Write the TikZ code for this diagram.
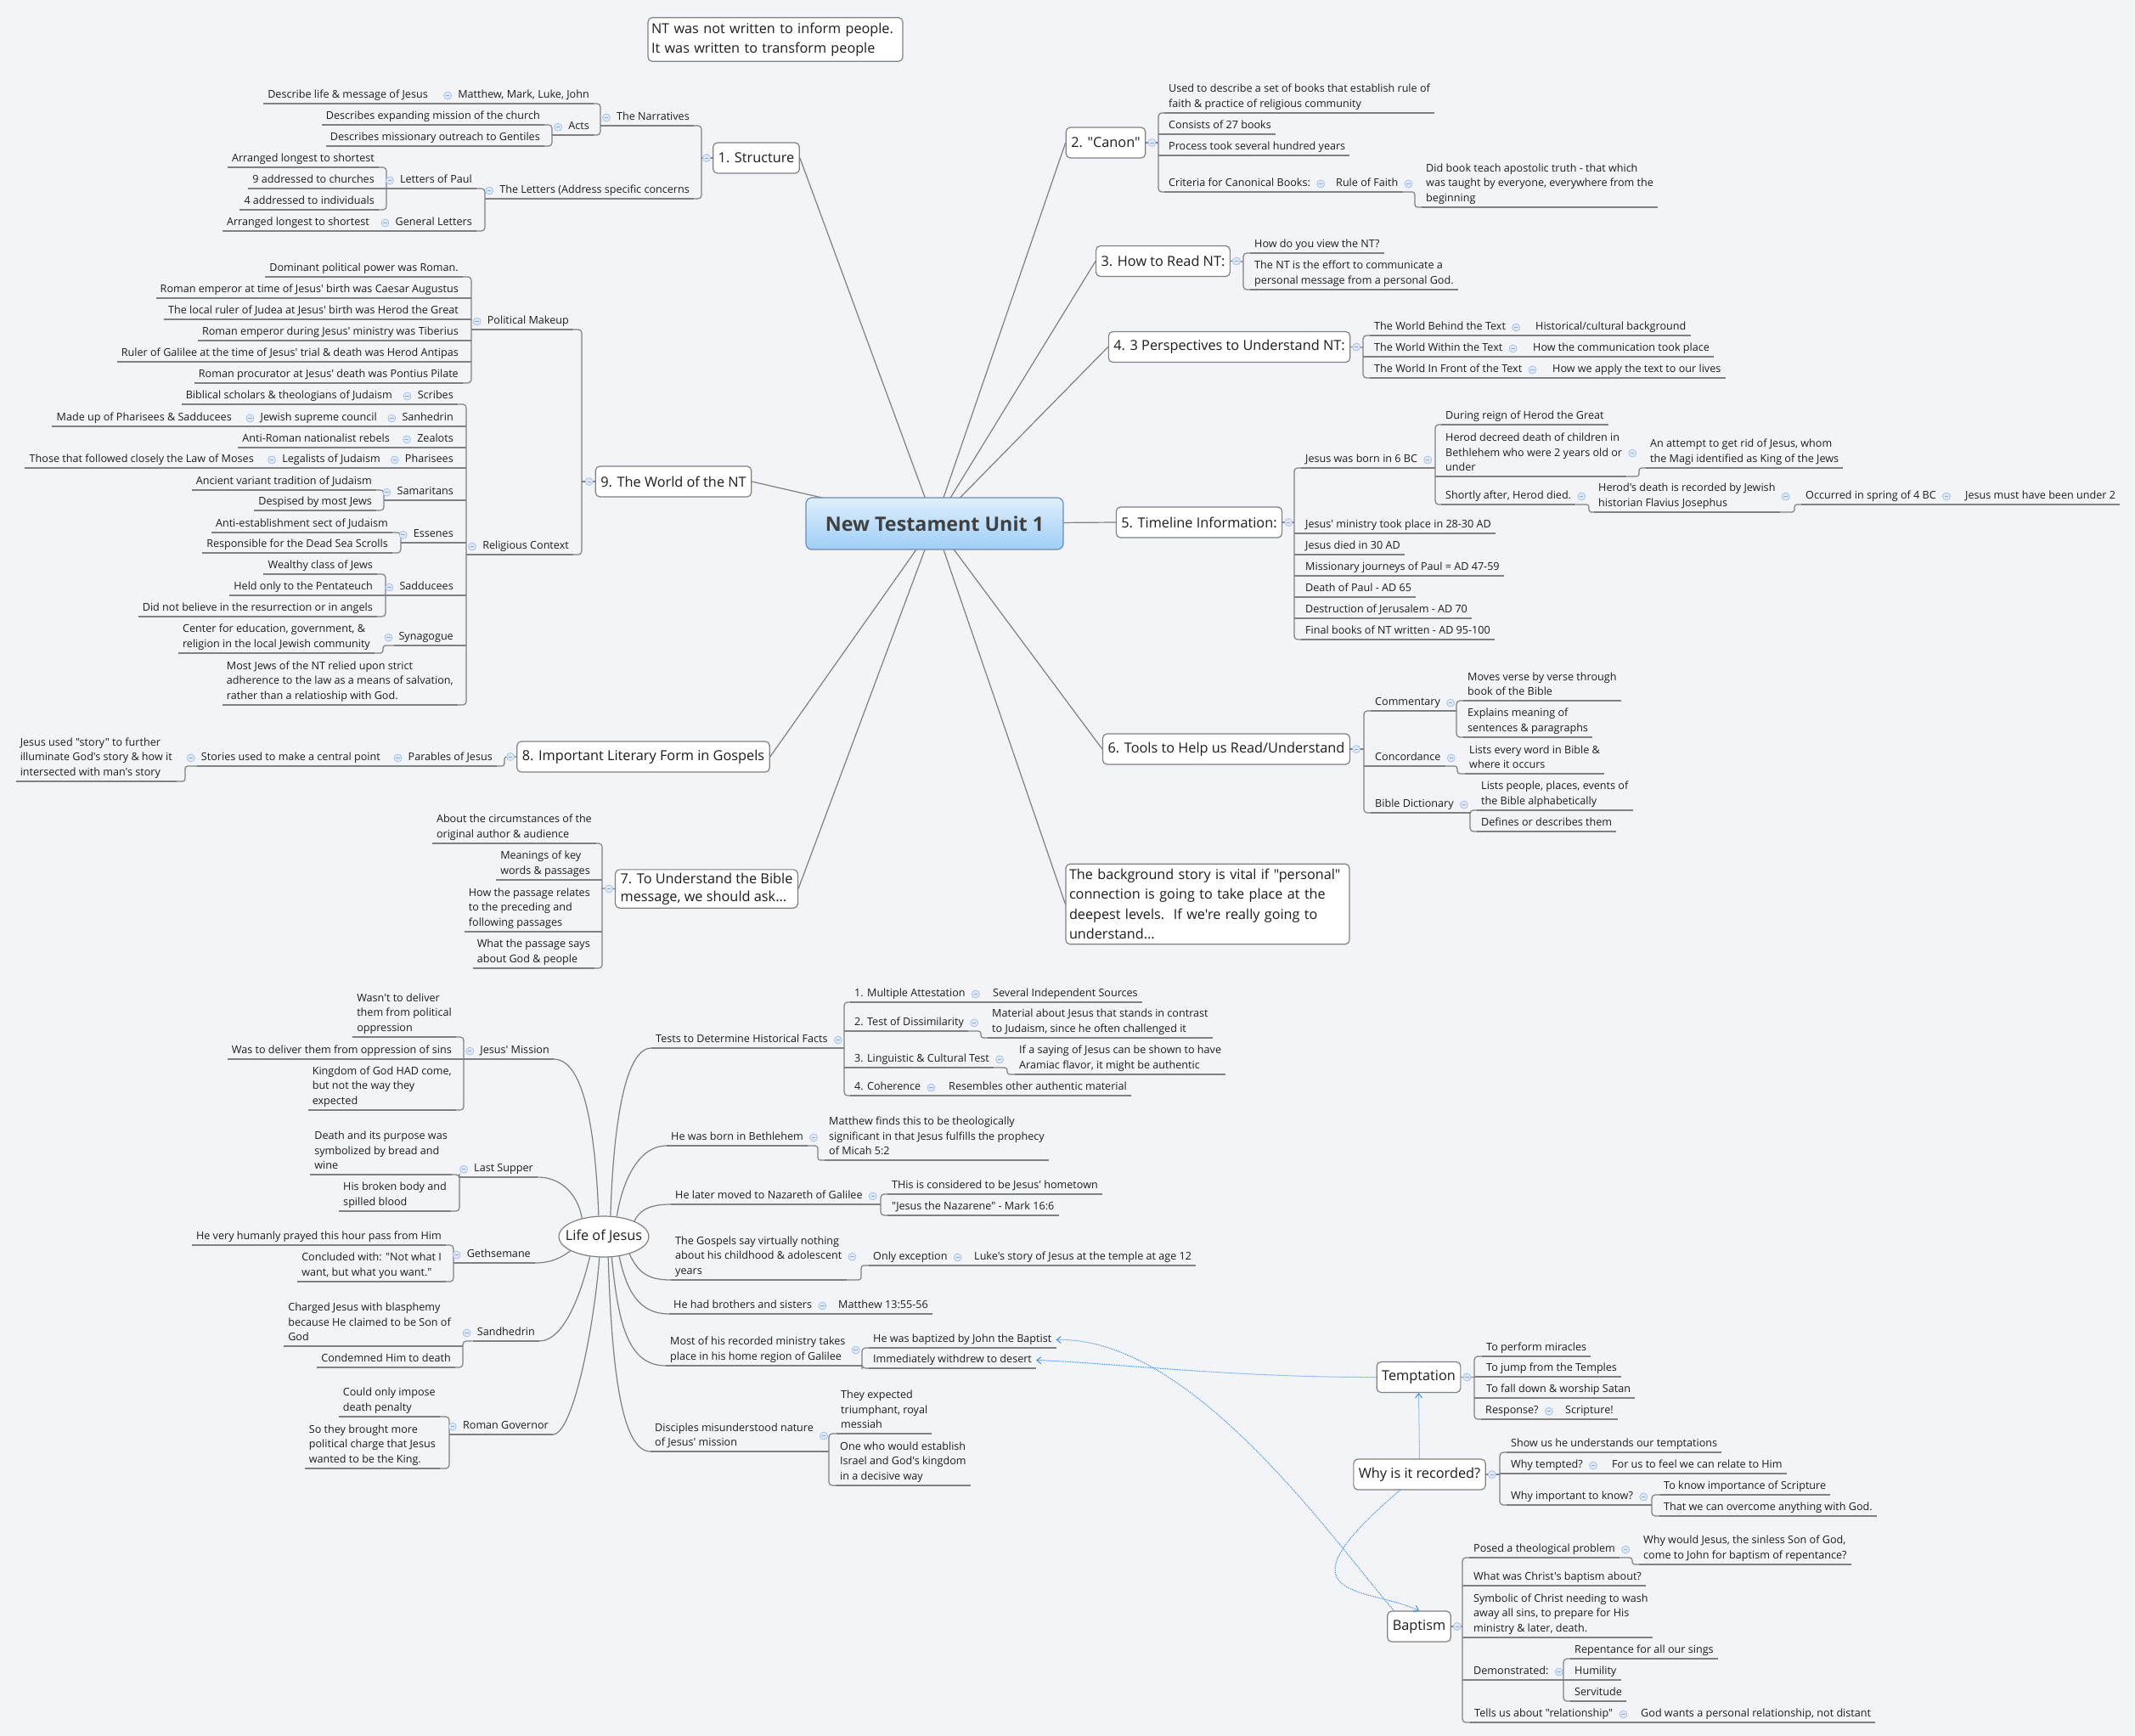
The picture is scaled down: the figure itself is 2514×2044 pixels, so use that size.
\documentclass[tikz,border=0pt]{standalone}
\usepackage{fontspec}
\setmainfont{Open Sans}[Ligatures=TeXOff]
\usetikzlibrary{shapes.geometric,arrows.meta,calc,backgrounds}
\definecolor{bgc}{RGB}{243,244,248}
\definecolor{lin}{RGB}{128,128,132}
\definecolor{txt}{RGB}{28,28,28}
\definecolor{boxb}{RGB}{128,128,128}
\definecolor{cirf}{RGB}{222,232,246}
\definecolor{cirb}{RGB}{165,190,225}
\definecolor{cirm}{RGB}{140,170,215}
\definecolor{blu}{RGB}{70,140,215}
\definecolor{ctop}{RGB}{222,239,253}
\definecolor{cbot}{RGB}{160,206,246}
\definecolor{cbrd}{RGB}{110,140,170}
\definecolor{ctxt}{RGB}{64,64,64}
\newcommand\xfs{\fontsize{12.6}{17.8}\selectfont}
\newcommand\xfb{\fontsize{16.3}{21}\selectfont}
\newcommand\xfn{\fontsize{16.2}{23.3}\selectfont}
\newcommand\xfc{\fontsize{23.3}{26}\selectfont\bfseries}
\newcommand\xst{\rule[-3pt]{0pt}{11pt}}
\newcommand\xspL[3]{\draw[ln,rounded corners=4pt] (#1.south east) -| (#2) |- (#3.south east);}
\newcommand\xspR[3]{\draw[ln,rounded corners=4pt] (#1.south west) -| (#2) |- (#3.south west);}
\newcommand\xmL[2]{\draw[ln] (#1.south east) -- (#1.south east -| #2);}
\newcommand\xmR[2]{\draw[ln] (#1.south west) -- (#1.south west -| #2);}
\newcommand\xcL[1]{\node[cir] (c-#1) at ([xshift=-7pt]#1.west) {};}
\newcommand\xcR[1]{\node[cir] (c-#1) at ([xshift=7pt]#1.east) {};}
\tikzset{
 ln/.style={draw=lin, line width=1.2pt},
 st/.style={font=\xfs, text=txt, inner xsep=5pt, inner ysep=3pt, align=left,
   execute at begin node=\xst, execute at end node=\xst,
   append after command={(\tikzlastnode.south west) edge[ln] (\tikzlastnode.south east)}},
 L/.style={st, anchor=south east},
 R/.style={st, anchor=south west},
 box/.style={draw=boxb, fill=white, rounded corners=5pt, line width=1.2pt, font=\xfb, text=txt, inner xsep=6pt, inner ysep=4pt, minimum height=36pt, align=left},
 cir/.style={circle, draw=cirb, fill=cirf, minimum size=9pt, inner sep=0pt, line width=0.7pt,
   path picture={\draw[cirm, line width=0.8pt] ([xshift=-2.2pt]path picture bounding box.center) -- ([xshift=2.2pt]path picture bounding box.center);}},
 bl/.style={draw=blu, line width=1pt, densely dotted},
 btip/.style={-{Straight Barb[length=5pt,width=8pt]}},
}
\begin{document}
\begin{tikzpicture}[x=1pt,y=-1pt]
\useasboundingbox (0,0) rectangle (2514,2044);

% ---------- central and floating ----------
\node[draw=cbrd, rounded corners=7pt, top color=ctop, bottom color=cbot, line width=1.2pt, minimum width=303pt, minimum height=61pt, font=\xfc, text=ctxt] (CT) at (1100.5,616.5) {New Testament Unit 1};
\node[box, font=\xfn, text width=292pt, inner xsep=4pt, inner ysep=6pt] (TN) at (913,46.5) {NT was not written to inform people.\\It was written to transform people};
\node[box, font=\xfn, text width=326pt, inner xsep=4pt, inner ysep=6pt] (BG) at (1422,1064.5) {The background story is vital if "personal"\\connection is going to take place at the\\deepest levels.\ \ If we're really going to\\understand...};

% ---------- level 1 boxes ----------
\node[box] (S) at (890.5,186) {1. Structure};
\node[box] (C) at (1302,168) {2. "Canon"};
\node[box] (H) at (1369.5,307.5) {3. How to Read NT:};
\node[box] (P) at (1447.5,408.5) {4. 3 Perspectives to Understand NT:};
\node[box] (TL) at (1412,615) {5. Timeline Information:};
\node[box] (TO) at (1444,882) {6. Tools to Help us Read/Understand};
\node[box] (U) at (832,1046.5) {7. To Understand the Bible\\message, we should ask...};
\node[box] (L8) at (757.5,891) {8. Important Literary Form in Gospels};
\node[box] (W9) at (793,567) {9. The World of the NT};

% ---------- 1. Structure ----------
\coordinate (sS) at (826,186);
\node[L] (N1) at (817,148) {The Narratives};
\node[L] (N2) at (817,234) {The Letters (Address specific concerns};
\draw[ln] (S.west) -- (sS);
\xspL{N1}{sS}{N2}
\coordinate (sN1) at (707,148);
\node[L] (N11) at (699,122) {Matthew, Mark, Luke, John};
\node[L] (N12) at (699,159) {Acts};
\draw[ln] (N1.south west) -- (sN1);
\xspL{N11}{sN1}{N12}
\node[L] (N111) at (509,122) {Describe life \& message of Jesus};
\draw[ln] (N111.south east) -- (N11.south west);
\coordinate (sN12) at (650,159);
\node[L] (N121) at (641,147) {Describes expanding mission of the church};
\node[L] (N122) at (641,172) {Describes missionary outreach to Gentiles};
\draw[ln] (N12.south west) -- (sN12);
\xspL{N121}{sN12}{N122}
\coordinate (sN2) at (571,234);
\node[L] (N21) at (561,222) {Letters of Paul};
\node[L] (N22) at (561,272) {General Letters};
\draw[ln] (N2.south west) -- (sN2);
\xspL{N21}{sN2}{N22}
\coordinate (sN21) at (455,222);
\node[L] (N211) at (446,197) {Arranged longest to shortest};
\node[L] (N212) at (446,222) {9 addressed to churches};
\node[L] (N213) at (446,247) {4 addressed to individuals};
\draw[ln] (N21.south west) -- (sN21);
\xspL{N211}{sN21}{N213}
\xmL{N212}{sN21}
\node[L] (N221) at (440,272) {Arranged longest to shortest};
\draw[ln] (N221.south east) -- (N22.south west);

% ---------- 9. World of the NT ----------
\coordinate (sW) at (685,567);
\node[L] (W1) at (675,388) {Political Makeup};
\node[L] (W2) at (675,653) {Religious Context};
\draw[ln] (W9.west) -- (sW);
\xspL{W1}{sW}{W2}
\coordinate (sW1) at (555,388);
\node[L] (W11) at (545,326) {Dominant political power was Roman.};
\node[L] (W12) at (545,351) {Roman emperor at time of Jesus' birth was Caesar Augustus};
\node[L] (W13) at (545,376) {The local ruler of Judea at Jesus' birth was Herod the Great};
\node[L] (W14) at (545,401) {Roman emperor during Jesus' ministry was Tiberius};
\node[L] (W15) at (545,426) {Ruler of Galilee at the time of Jesus' trial \& death was Herod Antipas};
\node[L] (W16) at (545,451) {Roman procurator at Jesus' death was Pontius Pilate};
\draw[ln] (W1.south west) -- (sW1);
\xspL{W11}{sW1}{W16}
\xmL{W12}{sW1}\xmL{W13}{sW1}\xmL{W14}{sW1}\xmL{W15}{sW1}
\coordinate (sW2) at (549,653);
\node[L] (W21) at (539,476) {Scribes};
\node[L] (W211) at (467,476) {Biblical scholars \& theologians of Judaism};
\draw[ln] (W211.south east) -- (W21.south west);
\node[L] (W22) at (539,502) {Sanhedrin};
\node[L] (W221) at (449,502) {Jewish supreme council};
\node[L] (W2211) at (278,502) {Made up of Pharisees \& Sadducees};
\draw[ln] (W221.south east) -- (W22.south west);
\draw[ln] (W2211.south east) -- (W221.south west);
\node[L] (W23) at (539,527) {Zealots};
\node[L] (W231) at (464,527) {Anti-Roman nationalist rebels};
\draw[ln] (W231.south east) -- (W23.south west);
\node[L] (W24) at (539,551) {Pharisees};
\node[L] (W241) at (453,551) {Legalists of Judaism};
\node[L] (W2411) at (304,551) {Those that followed closely the Law of Moses};
\draw[ln] (W241.south east) -- (W24.south west);
\draw[ln] (W2411.south east) -- (W241.south west);
\node[L] (W25) at (539,589) {Samaritans};
\coordinate (sW25) at (452,589);
\node[L] (W251) at (443,577) {Ancient variant tradition of Judaism};
\node[L] (W252) at (443,601) {Despised by most Jews};
\draw[ln] (W25.south west) -- (sW25);
\xspL{W251}{sW25}{W252}
\node[L] (W26) at (539,639) {Essenes};
\coordinate (sW26) at (472,639);
\node[L] (W261) at (462,627) {Anti-establishment sect of Judaism};
\node[L] (W262) at (462,651) {Responsible for the Dead Sea Scrolls};
\draw[ln] (W26.south west) -- (sW26);
\xspL{W261}{sW26}{W262}
\node[L] (W27) at (539,701) {Sadducees};
\coordinate (sW27) at (454,701);
\node[L] (W271) at (444,676) {Wealthy class of Jews};
\node[L] (W272) at (444,701) {Held only to the Pentateuch};
\node[L] (W273) at (444,726) {Did not believe in the resurrection or in angels};
\draw[ln] (W27.south west) -- (sW27);
\xspL{W271}{sW27}{W273}
\xmL{W272}{sW27}
\node[L] (W28) at (539,760) {Synagogue};
\coordinate (sW28) at (451,760);
\node[L] (W281) at (441,769) {Center for education, government, \&\\religion in the local Jewish community};
\draw[ln,rounded corners=3pt] (W281.south east) -| (sW28) -- (W28.south west);
\node[L] (W29) at (539,830) {Most Jews of the NT relied upon strict\\adherence to the law as a means of salvation,\\rather than a relatioship with God.};
\draw[ln] (W2.south west) -- (sW2);
\xspL{W21}{sW2}{W29}
\xmL{W22}{sW2}\xmL{W23}{sW2}\xmL{W24}{sW2}\xmL{W25}{sW2}\xmL{W26}{sW2}\xmL{W27}{sW2}\xmL{W28}{sW2}

% ---------- 8. Literary form ----------
\coordinate (sL8) at (594,891);
\node[L] (L81) at (585,902) {Parables of Jesus};
\draw[ln,rounded corners=3pt] (L8.west) -- (sL8) |- (L81.south east);
\node[L] (L811) at (453,902) {Stories used to make a central point};
\draw[ln] (L811.south east) -- (L81.south west);
\coordinate (sL811) at (218,902);
\node[L] (L8111) at (208,920) {Jesus used "story" to further\\illuminate God's story \& how it\\intersected with man's story};
\draw[ln,rounded corners=3pt] (L8111.south east) -| (sL811) -- (L811.south west);

% ---------- 7. Understand ----------
\coordinate (sU) at (709,1046);
\node[L] (U1) at (702,993) {About the circumstances of the\\original author \& audience};
\node[L] (U2) at (700,1036) {Meanings of key\\words \& passages};
\node[L] (U3) at (700,1097) {How the passage relates\\to the preceding and\\following passages};
\node[L] (U4) at (700,1140) {What the passage says\\about God \& people};
\draw[ln] (U.west) -- (sU);
\xspL{U1}{sU}{U4}
\xmL{U2}{sU}\xmL{U3}{sU}

% ---------- 2. Canon ----------
\coordinate (sC) at (1364,168);
\node[R] (C1) at (1371,133) {Used to describe a set of books that establish rule of\\faith \& practice of religious community};
\node[R] (C2) at (1371,158) {Consists of 27 books};
\node[R] (C3) at (1371,183) {Process took several hundred years};
\node[R] (C4) at (1371,226) {Criteria for Canonical Books:};
\draw[ln] (C.east) -- (sC);
\xspR{C1}{sC}{C4}
\xmR{C2}{sC}\xmR{C3}{sC}
\node[R] (C41) at (1568,226) {Rule of Faith};
\draw[ln] (C4.south east) -- (C41.south west);
\coordinate (sC41) at (1666,226);
\node[R] (C411) at (1674,244) {Did book teach apostolic truth - that which\\was taught by everyone, everywhere from the\\beginning};
\draw[ln,rounded corners=3pt] (C41.south east) -- (sC41) |- (C411.south west);

% ---------- 3. How to read ----------
\coordinate (sH) at (1464,308);
\node[R] (H1) at (1472,298) {How do you view the NT?};
\node[R] (H2) at (1472,341) {The NT is the effort to communicate a\\personal message from a personal God.};
\draw[ln] (H.east) -- (sH);
\xspR{H1}{sH}{H2}

% ---------- 4. Perspectives ----------
\coordinate (sP) at (1605,409);
\node[R] (P1) at (1613,395) {The World Behind the Text};
\node[R] (P11) at (1803,395) {Historical/cultural background};
\node[R] (P2) at (1613,420) {The World Within the Text};
\node[R] (P21) at (1800,420) {How the communication took place};
\node[R] (P3) at (1613,445) {The World In Front of the Text};
\node[R] (P31) at (1823,445) {How we apply the text to our lives};
\draw[ln] (P.east) -- (sP);
\xspR{P1}{sP}{P3}
\xmR{P2}{sP}
\draw[ln] (P1.south east) -- (P11.south west);
\draw[ln] (P2.south east) -- (P21.south west);
\draw[ln] (P3.south east) -- (P31.south west);

% ---------- 5. Timeline ----------
\coordinate (sTL) at (1524,615);
\node[R] (T1) at (1532,551) {Jesus was born in 6 BC};
\node[R] (T2) at (1532,628) {Jesus' ministry took place in 28-30 AD};
\node[R] (T3) at (1532,653) {Jesus died in 30 AD};
\node[R] (T4) at (1532,678) {Missionary journeys of Paul = AD 47-59};
\node[R] (T5) at (1532,703) {Death of Paul - AD 65};
\node[R] (T6) at (1532,728) {Destruction of Jerusalem - AD 70};
\node[R] (T7) at (1532,753) {Final books of NT written - AD 95-100};
\draw[ln] (TL.east) -- (sTL);
\xspR{T1}{sTL}{T7}
\xmR{T2}{sTL}\xmR{T3}{sTL}\xmR{T4}{sTL}\xmR{T5}{sTL}\xmR{T6}{sTL}
\coordinate (sT1) at (1690,551);
\node[R] (T11) at (1697,500) {During reign of Herod the Great};
\node[R] (T12) at (1697,561) {Herod decreed death of children in\\Bethlehem who were 2 years old or\\under};
\node[R] (T13) at (1697,594) {Shortly after, Herod died.};
\draw[ln] (T1.south east) -- (sT1);
\xspR{T11}{sT1}{T13}
\xmR{T12}{sT1}
\coordinate (sT12) at (1930,561);
\node[R] (T121) at (1938,551) {An attempt to get rid of Jesus, whom\\the Magi identified as King of the Jews};
\draw[ln,rounded corners=3pt] (T12.south east) -- (sT12) |- (T121.south west);
\coordinate (sT13) at (1871,594);
\node[R] (T131) at (1877,603) {Herod's death is recorded by Jewish\\historian Flavius Josephus};
\draw[ln,rounded corners=3pt] (T13.south east) -- (sT13) |- (T131.south west);
\coordinate (sT131) at (2113,603);
\node[R] (T1311) at (2121,594) {Occurred in spring of 4 BC};
\draw[ln,rounded corners=3pt] (T131.south east) -- (sT131) |- (T1311.south west);
\node[R] (T13111) at (2309,594) {Jesus must have been under 2};
\draw[ln] (T1311.south east) -- (T13111.south west);

% ---------- 6. Tools ----------
\coordinate (sTO) at (1606,882);
\node[R] (O1) at (1614,837) {Commentary};
\node[R] (O2) at (1614,902) {Concordance};
\node[R] (O3) at (1614,957) {Bible Dictionary};
\draw[ln] (TO.east) -- (sTO);
\xspR{O1}{sTO}{O3}
\xmR{O2}{sTO}
\coordinate (sO1) at (1715,837);
\node[R] (O11) at (1723,825) {Moves verse by verse through\\book of the Bible};
\node[R] (O12) at (1723,868) {Explains meaning of\\sentences \& paragraphs};
\draw[ln] (O1.south east) -- (sO1);
\xspR{O11}{sO1}{O12}
\coordinate (sO2) at (1716,902);
\node[R] (O21) at (1725,911) {Lists every word in Bible \&\\where it occurs};
\draw[ln,rounded corners=3pt] (O2.south east) -- (sO2) |- (O21.south west);
\coordinate (sO3) at (1731,960);
\node[R] (O31) at (1739,954) {Lists people, places, events of\\the Bible alphabetically};
\node[R] (O32) at (1739,979) {Defines or describes them};
\draw[ln] (O3.south east) -- (O3.south east -| sO3);
\xspR{O31}{sO3}{O32}

% ---------- Life of Jesus ----------
\node[ellipse, draw=boxb, fill=white, line width=1.2pt, minimum width=106pt, minimum height=48pt, inner xsep=-14pt, inner ysep=0pt, font=\xfb, text=txt] (LJ) at (711,1456) {Life of Jesus};
% left side
\node[L] (J1) at (652,1247) {Jesus' Mission};
\coordinate (sJ1) at (546,1247);
\node[L] (J11) at (537,1221) {Wasn't to deliver\\them from political\\oppression};
\node[L] (J12) at (537,1247) {Was to deliver them from oppression of sins};
\node[L] (J13) at (537,1307) {Kingdom of God HAD come,\\but not the way they\\expected};
\draw[ln] (J1.south west) -- (sJ1);
\xspL{J11}{sJ1}{J13}
\xmL{J12}{sJ1}
\node[L] (J2) at (633,1386) {Last Supper};
\coordinate (sJ2) at (541,1386);
\node[L] (J21) at (532,1383) {Death and its purpose was\\symbolized by bread and\\wine};
\node[L] (J22) at (531,1426) {His broken body and\\spilled blood};
\draw[ln] (J2.south west) -- (sJ2);
\xspL{J21}{sJ2}{J22}
\node[L] (J3) at (630,1487) {Gethsemane};
\coordinate (sJ3) at (534,1487);
\node[L] (J31) at (525,1466) {He very humanly prayed this hour pass from Him};
\node[L] (J32) at (525,1509) {Concluded with: "Not what I\\want, but what you want."};
\draw[ln] (J3.south west) -- (sJ3);
\xspL{J31}{sJ3}{J32}
\node[L] (J4) at (635,1579) {Sandhedrin};
\coordinate (sJ4) at (545,1579);
\node[L] (J41) at (536,1585) {Charged Jesus with blasphemy\\because He claimed to be Son of\\God};
\node[L] (J42) at (536,1610) {Condemned Him to death};
\draw[ln,rounded corners=4pt] (J4.south west) -- (sJ4) |- (J42.south east);
\xmL{J41}{sJ4}
\node[L] (J5) at (651,1689) {Roman Governor};
\coordinate (sJ5) at (529,1689);
\node[L] (J51) at (518,1668) {Could only impose\\death penalty};
\node[L] (J52) at (518,1729) {So they brought more\\political charge that Jesus\\wanted to be the King.};
\draw[ln] (J5.south west) -- (sJ5);
\xspL{J51}{sJ5}{J52}
\draw[ln] (LJ.104) .. controls (700,1300) and (680,1247) .. (J1.south east);
\draw[ln] (LJ.140) .. controls (680,1405) and (660,1386) .. (J2.south east);
\draw[ln] (LJ.203) .. controls (662,1480) and (650,1487) .. (J3.south east);
\draw[ln] (LJ.235) .. controls (685,1520) and (665,1579) .. (J4.south east);
\draw[ln] (LJ.258) .. controls (700,1560) and (675,1689) .. (J5.south east);
% right side
\node[R] (K1) at (767,1234) {Tests to Determine Historical Facts};
\coordinate (sK1) at (994,1234);
\node[R] (K11) at (1001,1180) {1. Multiple Attestation};
\node[R] (K111) at (1164,1180) {Several Independent Sources};
\node[R] (K12) at (1001,1214) {2. Test of Dissimilarity};
\node[R] (K121) at (1163,1222) {Material about Jesus that stands in contrast\\to Judaism, since he often challenged it};
\node[R] (K13) at (1001,1257) {3. Linguistic \& Cultural Test};
\node[R] (K131) at (1195,1265) {If a saying of Jesus can be shown to have\\Aramiac flavor, it might be authentic};
\node[R] (K14) at (1001,1290) {4. Coherence};
\node[R] (K141) at (1112,1290) {Resembles other authentic material};
\draw[ln] (K1.south east) -- (sK1);
\xspR{K11}{sK1}{K14}
\xmR{K12}{sK1}\xmR{K13}{sK1}
\draw[ln] (K11.south east) -- (K111.south west);
\coordinate (sK12) at (1155,1214);
\draw[ln,rounded corners=3pt] (K12.south east) -- (sK12) |- (K121.south west);
\coordinate (sK13) at (1186,1257);
\draw[ln,rounded corners=3pt] (K13.south east) -- (sK13) |- (K131.south west);
\draw[ln] (K14.south east) -- (K141.south west);
\node[R] (K2) at (785,1349) {He was born in Bethlehem};
\coordinate (sK2) at (963,1349);
\node[R] (K21) at (971,1366) {Matthew finds this to be theologically\\significant in that Jesus fulfills the prophecy\\of Micah 5:2};
\draw[ln,rounded corners=3pt] (K2.south east) -- (sK2) |- (K21.south west);
\node[R] (K3) at (790,1418) {He later moved to Nazareth of Galilee};
\coordinate (sK3) at (1037,1418);
\node[R] (K31) at (1045,1406) {THis is considered to be Jesus' hometown};
\node[R] (K32) at (1045,1431) {"Jesus the Nazarene" - Mark 16:6};
\draw[ln] (K3.south east) -- (sK3);
\xspR{K31}{sK3}{K32}
\node[R] (K4) at (790,1507) {The Gospels say virtually nothing\\about his childhood \& adolescent\\years};
\coordinate (sK4) at (1014,1507);
\node[R] (K41) at (1023,1490) {Only exception};
\node[R] (K411) at (1142,1490) {Luke's story of Jesus at the temple at age 12};
\draw[ln,rounded corners=3pt] (K4.south east) -- (sK4) |- (K41.south west);
\draw[ln] (K41.south east) -- (K411.south west);
\node[R] (K5) at (788,1547) {He had brothers and sisters};
\node[R] (K51) at (982,1547) {Matthew 13:55-56};
\draw[ln] (K5.south east) -- (K51.south west);
\node[R] (K6) at (784,1608) {Most of his recorded ministry takes\\place in his home region of Galilee};
\coordinate (sK6) at (1015,1608);
\node[R] (K61) at (1023,1587) {He was baptized by John the Baptist};
\node[R] (K62) at (1023,1611) {Immediately withdrew to desert};
\draw[ln] (K6.south east) -- (sK6);
\xspR{K61}{sK6}{K62}
\node[R] (K7) at (766,1709) {Disciples misunderstood nature\\of Jesus' mission};
\coordinate (sK7) at (976,1709);
\node[R] (K71) at (985,1688) {They expected\\triumphant, royal\\messiah};
\node[R] (K72) at (984,1749) {One who would establish\\Israel and God's kingdom\\in a decisive way};
\draw[ln] (K7.south east) -- (sK7);
\xspR{K71}{sK7}{K72}
\draw[ln] (LJ.72) .. controls (722,1330) and (735,1234) .. (K1.south west);
\draw[ln] (LJ.57) .. controls (732,1395) and (750,1349) .. (K2.south west);
\draw[ln] (LJ.27) .. controls (752,1428) and (760,1418) .. (K3.south west);
\draw[ln] (LJ.-34) .. controls (752,1500) and (765,1507) .. (K4.south west);
\draw[ln] (LJ.-52) .. controls (738,1520) and (752,1547) .. (K5.south west);
\draw[ln] (LJ.-69) .. controls (728,1560) and (740,1608) .. (K6.south west);
\draw[ln] (LJ.-78) .. controls (720,1600) and (730,1709) .. (K7.south west);

% ---------- Temptation / Why / Baptism ----------
\node[box] (TM) at (1670.5,1621.5) {Temptation};
\node[box] (WY) at (1671.5,1736) {Why is it recorded?};
\node[box] (BP) at (1671,1915) {Baptism};
\coordinate (sTM) at (1736,1621.5);
\node[R] (TM1) at (1745,1597) {To perform miracles};
\node[R] (TM2) at (1745,1621) {To jump from the Temples};
\node[R] (TM3) at (1745,1646) {To fall down \& worship Satan};
\node[R] (TM4) at (1744,1671) {Response?};
\node[R] (TM41) at (1838,1671) {Scripture!};
\draw[ln] (TM.east) -- (sTM);
\xspR{TM1}{sTM}{TM4}
\xmR{TM2}{sTM}\xmR{TM3}{sTM}
\draw[ln] (TM4.south east) -- (TM41.south west);
\coordinate (sWY) at (1766,1736);
\node[R] (WY1) at (1774,1710) {Show us he understands our temptations};
\node[R] (WY2) at (1774,1735) {Why tempted?};
\node[R] (WY21) at (1893,1735) {For us to feel we can relate to Him};
\node[R] (WY3) at (1774,1772) {Why important to know?};
\draw[ln] (WY.east) -- (sWY);
\xspR{WY1}{sWY}{WY3}
\xmR{WY2}{sWY}
\draw[ln] (WY2.south east) -- (WY21.south west);
\coordinate (sWY3) at (1945,1772);
\node[R] (WY31) at (1954,1760) {To know importance of Scripture};
\node[R] (WY32) at (1954,1785) {That we can overcome anything with God.};
\draw[ln] (WY3.south east) -- (sWY3);
\xspR{WY31}{sWY3}{WY32}
\coordinate (sBP) at (1722,1915);
\node[R] (BP1) at (1730,1834) {Posed a theological problem};
\coordinate (sBP1) at (1922,1834);
\node[R] (BP11) at (1930,1842) {Why would Jesus, the sinless Son of God,\\come to John for baptism of repentance?};
\draw[ln,rounded corners=3pt] (BP1.south east) -- (sBP1) |- (BP11.south west);
\node[R] (BP2) at (1730,1867) {What was Christ's baptism about?};
\node[R] (BP3) at (1730,1928) {Symbolic of Christ needing to wash\\away all sins, to prepare for His\\ministry \& later, death.};
\node[R] (BP4) at (1730,1978) {Demonstrated:};
\coordinate (sBP4) at (1841,1978);
\node[R] (BP41) at (1849,1953) {Repentance for all our sings};
\node[R] (BP42) at (1849,1978) {Humility};
\node[R] (BP43) at (1849,2003) {Servitude};
\draw[ln] (BP4.south east) -- (sBP4);
\xspR{BP41}{sBP4}{BP43}
\xmR{BP42}{sBP4}
\node[R] (BP5) at (1731,2028) {Tells us about "relationship"};
\node[R] (BP51) at (1927,2028) {God wants a personal relationship, not distant};
\draw[ln] (BP5.south east) -- (BP51.south west);
\draw[ln] (BP.east) -- (sBP);
\xspR{BP1}{sBP}{BP5}
\xmR{BP2}{sBP}\xmR{BP3}{sBP}\xmR{BP4}{sBP}

% relationships
\draw[bl, btip] (TM.west) .. controls (1450,1622) and (1300,1604) .. (K62.east);
\draw[bl, btip] ([xshift=8pt]BP.north west) .. controls (1560,1800) and (1400,1574) .. (K61.east);
\draw[bl, btip] (WY.north) -- (TM.south);
\draw[bl, btip] ([xshift=-23pt]WY.south) .. controls (1495,1885) and (1610,1868) .. (BP.north);

% ---------- collapse circles ----------
\xcL{S}\xcR{C}\xcR{H}\xcR{P}\xcR{TL}\xcR{TO}\xcL{U}\xcL{L8}\xcL{W9}
\xcL{N1}\xcL{N2}\xcL{N11}\xcL{N12}\xcL{N21}\xcL{N22}
\xcL{W1}\xcL{W2}\xcL{W21}\xcL{W22}\xcL{W221}\xcL{W23}\xcL{W24}\xcL{W241}\xcL{W25}\xcL{W26}\xcL{W27}\xcL{W28}
\xcL{L81}\xcL{L811}
\xcR{C4}\xcR{C41}
\xcR{P1}\xcR{P2}\xcR{P3}
\xcR{T1}\xcR{T12}\xcR{T13}\xcR{T131}\xcR{T1311}
\xcR{O1}\xcR{O2}\xcR{O3}
\xcL{J1}\xcL{J2}\xcL{J3}\xcL{J4}\xcL{J5}
\xcR{K1}\xcR{K11}\xcR{K12}\xcR{K13}\xcR{K14}\xcR{K2}\xcR{K3}\xcR{K4}\xcR{K41}\xcR{K5}\xcR{K6}\xcR{K7}
\xcR{TM}\xcR{TM4}\xcR{WY}\xcR{WY2}\xcR{WY3}\xcR{BP}\xcR{BP1}\xcR{BP4}\xcR{BP5}

% ---------- background layer ----------
\begin{pgfonlayer}{background}
\fill[bgc] (0,0) rectangle (2514,2044);
\draw[ln] (CT.center) -- (S.east);
\draw[ln] (CT.center) -- (C.west);
\draw[ln] (CT.center) -- (H.west);
\draw[ln] (CT.center) -- (P.west);
\draw[ln] (CT.center) -- (TL.west);
\draw[ln] (CT.center) -- (TO.west);
\draw[ln] (CT.center) -- (BG.west);
\draw[ln] (CT.center) -- (U.east);
\draw[ln] (CT.center) -- (L8.east);
\draw[ln] (CT.center) -- (W9.east);
\end{pgfonlayer}
\end{tikzpicture}
\end{document}
